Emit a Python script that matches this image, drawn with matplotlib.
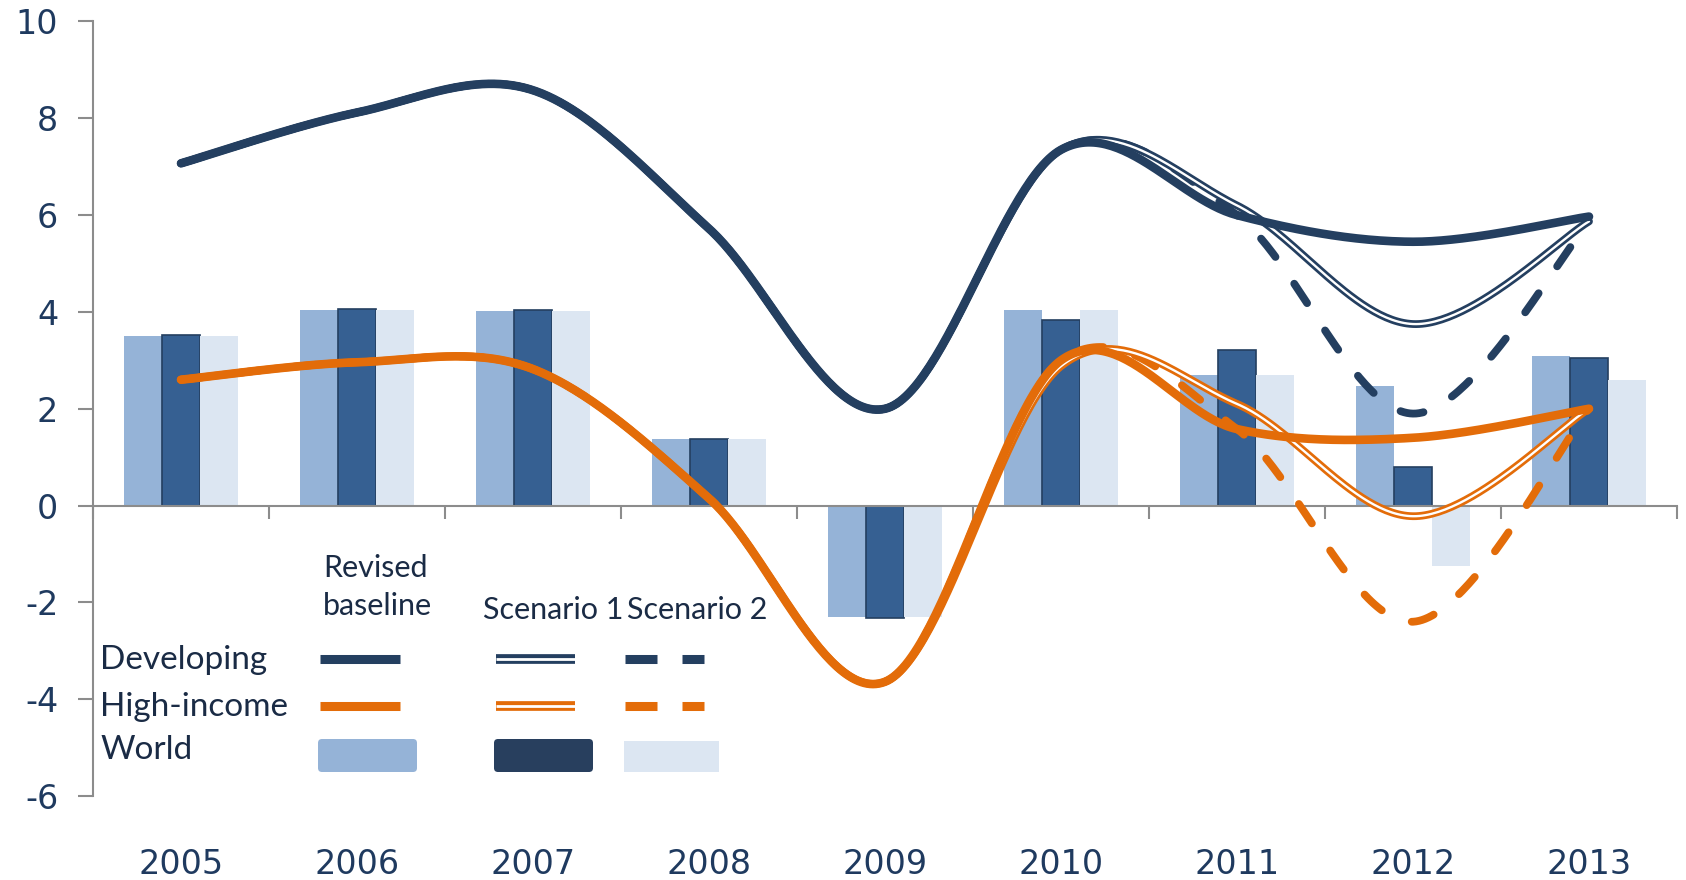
import matplotlib
matplotlib.use("Agg")
import matplotlib.pyplot as plt
import matplotlib.transforms as mtransforms
from matplotlib.patches import FancyBboxPatch, Rectangle
import numpy as np

# ---- data ----
years = ["2005", "2006", "2007", "2008", "2009", "2010", "2011", "2012", "2013"]

world_base = [3.50, 4.05, 4.02, 1.38, -2.30, 4.05, 2.70, 2.48, 3.08]
world_s1 = [3.52, 4.07, 4.03, 1.38, -2.32, 3.84, 3.22, 0.80, 3.05]
world_s2 = [3.50, 4.05, 4.02, 1.38, -2.30, 4.05, 2.70, -1.25, 2.60]

dev_base = [7.07, 8.12, 8.58, 5.72, 2.00, 7.35, 6.00, 5.45, 5.97]
dev_s1 = [7.07, 8.12, 8.58, 5.72, 2.00, 7.35, 6.20, 3.75, 5.87]
dev_s2 = [7.07, 8.12, 8.58, 5.72, 2.00, 7.35, 6.00, 1.90, 5.85]

hi_base = [2.60, 2.96, 2.82, 0.15, -3.64, 3.00, 1.58, 1.40, 2.00]
hi_s1 = [2.60, 2.96, 2.82, 0.15, -3.64, 2.88, 2.10, -0.22, 2.00]
hi_s2 = [2.60, 2.96, 2.82, 0.15, -3.64, 3.00, 1.58, -2.40, 2.00]

yticks = [-6, -4, -2, 0, 2, 4, 6, 8, 10]

NAVY = "#243F60"
ORANGE = "#E36C09"
BAR1 = "#95B3D7"
BAR2 = "#366092"
BAR3 = "#DCE6F2"
TXT = "#1F3A5F"
GRAY = "#8C8C8C"


def smooth(y, n=60):
    # excel-like smoothed line (catmull-rom as cubic bezier)
    pts = np.column_stack([np.arange(len(y)), y]).astype(float)
    P = np.vstack([pts[0], pts, pts[-1]])
    t = np.linspace(0, 1, n)[:, None]
    out = []
    for i in range(len(pts) - 1):
        p0, p1, p2, p3 = P[i], P[i + 1], P[i + 2], P[i + 3]
        c1 = p1 + (p2 - p0) / 6
        c2 = p2 - (p3 - p1) / 6
        seg = (1 - t) ** 3 * p1 + 3 * (1 - t) ** 2 * t * c1 + 3 * (1 - t) * t ** 2 * c2 + t ** 3 * p2
        out.append(seg if i == 0 else seg[1:])
    s = np.vstack(out)
    return s[:, 0], s[:, 1]


W, H = 1686, 880
fig = plt.figure(figsize=(W / 100, H / 100), dpi=100)
ax = fig.add_axes([93 / W, 1 - 796 / H, (1677 - 93) / W, (796 - 21.5) / H])

x = np.arange(len(years))
bw = 0.215
ax.bar(x - bw, world_base, bw, color=BAR1, zorder=1)
ax.bar(x, world_s1, bw, color=BAR2, edgecolor=NAVY, linewidth=1.2, zorder=1)
ax.bar(x + bw, world_s2, bw, color=BAR3, zorder=1)


def double_line(y, color, lw=5.6, gap=1.7, z=3):
    xs, ys = smooth(y)
    ax.plot(xs, ys, color=color, lw=lw, solid_capstyle="round", zorder=z)
    ax.plot(xs, ys, color="white", lw=gap, solid_capstyle="round", zorder=z + 0.1)


def dashed_line(y, color, z=2):
    xs, ys = smooth(y)
    ax.plot(xs, ys, color=color, lw=5.6, ls=(0, (3.0, 4.2)),
            dash_capstyle="round", zorder=z)


for base, s1, s2, c in [(dev_base, dev_s1, dev_s2, NAVY), (hi_base, hi_s1, hi_s2, ORANGE)]:
    dashed_line(s2, c)
    double_line(s1, c)
    xs, ys = smooth(base)
    ax.plot(xs, ys, color=c, lw=6.2, solid_capstyle="round", zorder=4)

ax.set_xlim(-0.5, len(years) - 0.5)
ax.set_ylim(-6, 10)
ax.set_yticks(yticks)
ax.set_yticklabels([str(v) for v in yticks], fontsize=24, color=TXT)
ax.tick_params(axis="y", direction="out", length=11, width=1.5, color=GRAY, pad=14)

ax.set_xticks(np.arange(-0.5, len(years), 1.0))
ax.set_xticklabels([])
ax.tick_params(axis="x", direction="out", length=9, width=1.5, color=GRAY)

for s in ["top", "right"]:
    ax.spines[s].set_visible(False)
ax.spines["left"].set_color(GRAY)
ax.spines["left"].set_linewidth(1.5)
ax.spines["bottom"].set_position(("data", 0))
ax.spines["bottom"].set_color(GRAY)
ax.spines["bottom"].set_linewidth(1.5)
ax.spines["bottom"].set_zorder(1.5)

trans = mtransforms.blended_transform_factory(ax.transData, fig.transFigure)
for i, yr in enumerate(years):
    ax.text(i, 1 - 864 / H, yr, transform=trans, ha="center", va="center",
            fontsize=24, color=TXT)

# ---- custom legend, in pixel coordinates ----
lg = fig.add_axes([0, 0, 1, 1], facecolor="none")
lg.set_xlim(0, W)
lg.set_ylim(H, 0)
lg.axis("off")

lf = dict(family="Lato", fontsize=22, color="#1A2B45")
lg.text(323, 568, "Revised", ha="left", va="center", **lf)
lg.text(323, 606, "baseline", ha="left", va="center", **lf)
lg.text(483, 610, "Scenario 1", ha="left", va="center", **lf)
lg.text(627, 610, "Scenario 2", ha="left", va="center", **lf)
lf2 = dict(lf, fontsize=24)
lg.text(100, 660, "Developing", ha="left", va="center", **lf2)
lg.text(100, 707, "High-income", ha="left", va="center", **lf2)
lg.text(100, 750, "World", ha="left", va="center", **lf2)

for yy, c in [(659, NAVY), (706, ORANGE)]:
    lg.plot([320, 400], [yy, yy], color=c, lw=6.5, solid_capstyle="butt")
    lg.plot([496, 575], [yy, yy], color=c, lw=7, solid_capstyle="butt")
    lg.plot([496, 575], [yy, yy], color="white", lw=2, solid_capstyle="butt")
    lg.plot([625, 657], [yy, yy], color=c, lw=6.5, solid_capstyle="butt")
    lg.plot([682, 704], [yy, yy], color=c, lw=6.5, solid_capstyle="butt")

lg.add_patch(FancyBboxPatch((318, 739), 99, 33, boxstyle="round,pad=0,rounding_size=4",
                            facecolor=BAR1, edgecolor="none"))
lg.add_patch(FancyBboxPatch((494, 739), 99, 33, boxstyle="round,pad=0,rounding_size=4",
                            facecolor="#283F5E", edgecolor="none"))
lg.add_patch(Rectangle((624, 741), 95, 31, facecolor=BAR3, edgecolor="none"))

fig.savefig("out.png", dpi=100)
